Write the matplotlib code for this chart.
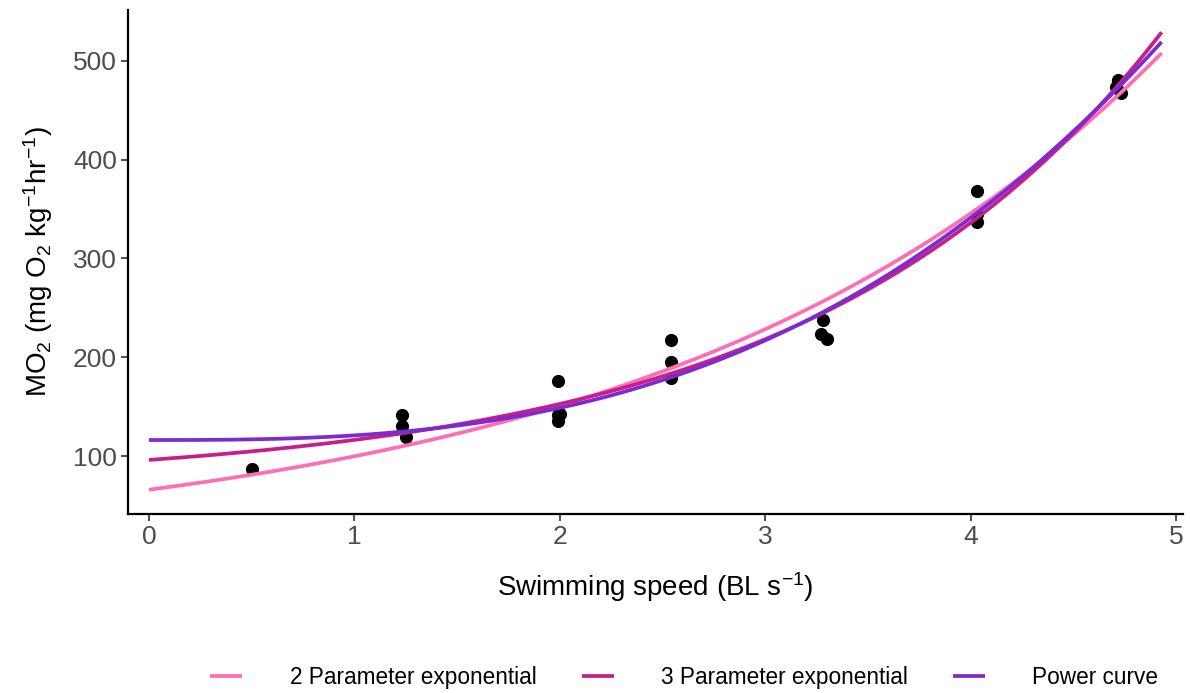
import matplotlib.pyplot as plt
import numpy as np

plt.rcParams['font.family'] = ['Liberation Sans', 'DejaVu Sans']
plt.rcParams['mathtext.fontset'] = 'custom'
plt.rcParams['mathtext.rm'] = 'Liberation Sans'
plt.rcParams['mathtext.it'] = 'Liberation Sans:italic'
plt.rcParams['mathtext.default'] = 'regular'

# swimming trials: speed (body lengths / s) and oxygen consumption
speed = [0.50,
         1.23, 1.23, 1.25,
         1.99, 1.99, 2.00, 1.99,
         2.54, 2.54, 2.54,
         3.28, 3.27, 3.30,
         4.03, 4.03, 4.03,
         4.72, 4.71, 4.73]
mo2 = [86.8,
       141.5, 130.4, 119.5,
       176.0, 141.5, 143.0, 135.7,
       217.5, 195.5, 178.5,
       237.5, 223.5, 218.5,
       368.0, 345.0, 337.0,
       481.0, 474.0, 468.0]

model_names = ["2 Parameter exponential", "3 Parameter exponential", "Power curve"]
model_colors = ["#FF6EB4", "#C71E8A", "#7B2BCF"]
speed_max = 4.93

x = np.array(speed)
y = np.array(mo2)


# fit each model: grid over the nonlinear term, least squares for the rest
def fit_exp2(x, y):
    best = None
    for b in np.linspace(0.1, 1.0, 2000):
        e = np.exp(b * x)
        a = (e @ y) / (e @ e)
        sse = np.sum((y - a * e) ** 2)
        if best is None or sse < best[0]:
            best = (sse, a, b)
    _, a, b = best
    return lambda s: a * np.exp(b * s)


def fit_linear_basis(x, y, basis, grid):
    best = None
    for c in grid:
        A = np.column_stack([np.ones_like(x), basis(x, c)])
        coef, *_ = np.linalg.lstsq(A, y, rcond=None)
        sse = np.sum((y - A @ coef) ** 2)
        if best is None or sse < best[0]:
            best = (sse, coef, c)
    _, coef, c = best
    return lambda s: coef[0] + coef[1] * basis(s, c)


models = [
    fit_exp2(x, y),
    fit_linear_basis(x, y, lambda s, c: np.exp(c * s), np.linspace(0.1, 1.5, 2000)),
    fit_linear_basis(x, y, lambda s, c: np.power(s, c), np.linspace(1.0, 5.0, 2000)),
]

fig = plt.figure(figsize=(11.9, 6.93), dpi=100)
ax = fig.add_axes([0.1076, 0.2583, 0.8865, 0.7273])

ax.scatter(x, y, s=90, color="black", zorder=2, linewidths=0)

grid_x = np.linspace(0, speed_max, 300)
for name, col, f in zip(model_names, model_colors, models):
    ax.plot(grid_x, f(grid_x), color=col, lw=2.7, label=name, zorder=3,
            solid_capstyle="butt")

ax.set_xlim(-0.102, 5.034)
ax.set_ylim(41.3, 551.6)
ax.set_xticks([0, 1, 2, 3, 4, 5])
ax.set_yticks([100, 200, 300, 400, 500])

for side in ["top", "right"]:
    ax.spines[side].set_visible(False)
for side in ["left", "bottom"]:
    ax.spines[side].set_linewidth(1.6)
    ax.spines[side].set_color("black")
ax.tick_params(axis="both", length=5, width=1.2, color="#333333",
               labelsize=19, labelcolor="#4D4D4D", pad=3)

ax.set_xlabel("Swimming speed (BL s$^{-1}$)", fontsize=20, labelpad=15)
ax.set_ylabel("MO$_2$ (mg O$_2$ kg$^{-1}$hr$^{-1}$)", fontsize=20, labelpad=13)

handles, labels = ax.get_legend_handles_labels()
fig.legend(handles, labels, loc="center", bbox_to_anchor=(0.575, 0.023),
           ncol=3, frameon=False, fontsize=16.3, handlelength=1.42,
           handletextpad=2.08, columnspacing=2.0)

plt.savefig("out.png", dpi=100)
